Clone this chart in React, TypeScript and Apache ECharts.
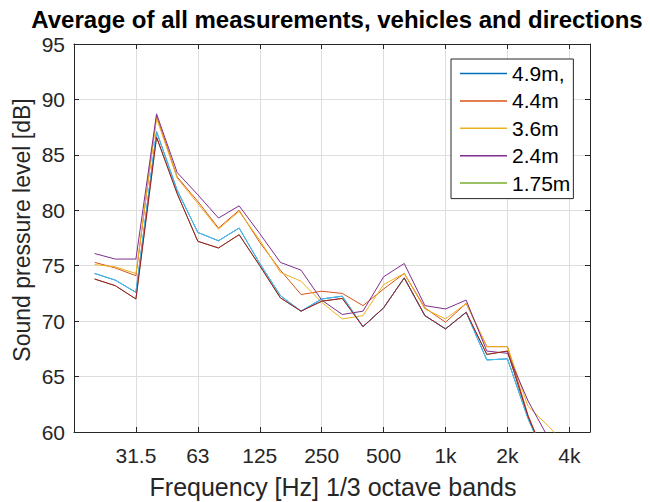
import React, { useEffect, useRef } from 'react';
import * as echarts from 'echarts';

// 1/3 octave band centre frequencies plotted (band index 1 = 20 Hz; index 0 = 16 Hz is the left limit, 25 = 5 kHz the right limit)
const bandLabels = ['20', '25', '31.5', '40', '50', '63', '80', '100', '125', '160', '200', '250', '315', '400', '500', '630', '800', '1k', '1.25k', '1.6k', '2k', '2.5k', '3.15k', '4k'];
const xTickLabels = ['31.5', '63', '125', '250', '500', '1k', '2k', '4k'];
const yTicks = [60, 65, 70, 75, 80, 85, 90, 95];

const seriesNames = ['4.9m,', '4.4m', '3.6m', '2.4m', '1.75m'];
const values49 = [74.3, 73.7, 72.6, 87.1, 81.8, 78.0, 77.25, 78.4, 75.2, 72.3, 70.9, 72.0, 72.25, 69.5, 71.2, 73.9, 70.5, 69.3, 70.8, 66.5, 66.6, 61.2, 57.0, 55.0];
const values44 = [75.3, 74.8, 74.1, 88.5, 83.0, 80.8, 78.4, 80.0, 77.1, 74.6, 72.4, 72.7, 72.5, 71.4, 72.9, 74.3, 71.2, 69.9, 71.6, 67.7, 67.7, 61.5, 57.0, 55.0];
const values36 = [75.1, 74.9, 74.3, 88.3, 82.9, 80.6, 78.3, 79.9, 77.3, 74.4, 73.6, 71.7, 70.2, 70.5, 73.3, 74.3, 71.1, 70.2, 71.6, 67.7, 67.7, 62.3, 60.5, 58.5];
const values24 = [76.1, 75.6, 75.6, 88.7, 83.4, 81.4, 79.3, 80.4, 77.9, 75.3, 74.6, 71.9, 70.6, 70.9, 74.0, 75.2, 71.4, 71.1, 71.9, 67.3, 67.1, 62.8, 59.4, 57.5];
const values175 = [73.8, 73.2, 72.0, 86.6, 81.5, 77.2, 76.6, 77.8, 75.0, 72.1, 70.9, 71.8, 72.05, 69.5, 71.2, 73.9, 70.5, 69.3, 70.8, 67.0, 67.3, 61.4, 57.0, 55.0];

const lineColors = ['#0072BD', '#D95319', '#EDB120', '#7E2F8E', '#77AC30'];
const overlayColors = ['#4DBEEE', '#A2142F'];

const FONT = '"Liberation Sans", Arial, Helvetica, sans-serif';
const AX = '#262626';

export default function App() {
  const ref = useRef<HTMLDivElement>(null);
  useEffect(() => {
    if (!ref.current) return;
    const chart = echarts.init(ref.current, undefined, { renderer: 'svg' });
    const allValues = [values49, values44, values36, values24, values175];
    const toData = (vals: number[]) => vals.map((v, i) => [i + 1, v]);
    const series: any[] = allValues.map((vals, k) => ({
      name: seriesNames[k],
      type: 'line',
      data: toData(vals),
      symbol: 'none',
      lineStyle: { color: lineColors[k], width: 1 },
      itemStyle: { color: lineColors[k] },
      xAxisIndex: 0,
      yAxisIndex: 0,
      clip: true,
    }));
    // overlays drawn on top (as seen in the plot)
    series.push({
      name: 'overlay-a', type: 'line', data: toData(values49), symbol: 'none',
      lineStyle: { color: overlayColors[0], width: 1 }, itemStyle: { color: overlayColors[0] }, clip: true,
    });
    series.push({
      name: 'overlay-b', type: 'line', data: toData(values175), symbol: 'none',
      lineStyle: { color: overlayColors[1], width: 1 }, itemStyle: { color: overlayColors[1] }, clip: true,
    });

    const xFmt = (v: number) => (v > 0 && v % 3 === 0 && v / 3 - 1 < xTickLabels.length ? xTickLabels[v / 3 - 1] : '');

    chart.setOption({
      animation: false,
      grid: { left: 74, top: 44, width: 516, height: 388, containLabel: false },
      xAxis: [
        {
          type: 'value', min: 0, max: 25, interval: 3, position: 'bottom',
          axisLine: { show: true, onZero: false, lineStyle: { color: AX, width: 1 } },
          axisTick: { show: true, inside: true, length: 5, lineStyle: { color: AX } },
          axisLabel: { show: true, formatter: xFmt, color: AX, fontSize: 21, fontFamily: FONT, margin: 13 },
          splitLine: { show: true, lineStyle: { color: '#dedede', width: 1 } },
        },
        {
          type: 'value', min: 0, max: 25, interval: 3, position: 'top',
          axisLine: { show: true, onZero: false, lineStyle: { color: AX, width: 1 } },
          axisTick: { show: true, inside: true, length: 5, lineStyle: { color: AX } },
          axisLabel: { show: false },
          splitLine: { show: false },
        },
      ],
      yAxis: [
        {
          type: 'value', min: yTicks[0], max: yTicks[yTicks.length - 1], interval: 5, position: 'left',
          axisLine: { show: true, onZero: false, lineStyle: { color: AX, width: 1 } },
          axisTick: { show: true, inside: true, length: 5, lineStyle: { color: AX } },
          axisLabel: { show: true, color: AX, fontSize: 21, fontFamily: FONT, margin: 9 },
          splitLine: { show: true, lineStyle: { color: '#dedede', width: 1 } },
        },
        {
          type: 'value', min: yTicks[0], max: yTicks[yTicks.length - 1], interval: 5, position: 'right',
          axisLine: { show: true, onZero: false, lineStyle: { color: AX, width: 1 } },
          axisTick: { show: true, inside: true, length: 5, lineStyle: { color: AX } },
          axisLabel: { show: false },
          splitLine: { show: false },
        },
      ],
      legend: {
        data: seriesNames,
        orient: 'vertical',
        left: 451,
        top: 59,
        icon: 'rect',
        itemWidth: 47,
        itemHeight: 1.5,
        itemGap: 6.4,
        padding: [4, 3, 5, 9],
        borderColor: AX,
        borderWidth: 1,
        backgroundColor: '#ffffff',
        textStyle: { color: '#000', fontSize: 21, fontFamily: FONT, lineHeight: 21 },
      },
      graphic: [
        {
          type: 'text', x: 337, y: 19,
          style: { text: 'Average of all measurements, vehicles and directions', font: `bold 24px ${FONT}`, fill: '#000', align: 'center', verticalAlign: 'middle' },
        },
        {
          type: 'text', x: 333, y: 487,
          style: { text: 'Frequency [Hz] 1/3 octave bands', font: `25px ${FONT}`, fill: AX, align: 'center', verticalAlign: 'middle' },
        },
        {
          type: 'text', x: 22, y: 230, rotation: Math.PI / 2,
          style: { text: 'Sound pressure level [dB]', font: `23px ${FONT}`, fill: AX, align: 'center', verticalAlign: 'middle' },
        },
      ],
      series,
    });
    return () => chart.dispose();
  }, []);
  return <div ref={ref} style={{ position: 'fixed', left: 0, top: 0, width: 650, height: 502, background: '#fff' }} />;
}
